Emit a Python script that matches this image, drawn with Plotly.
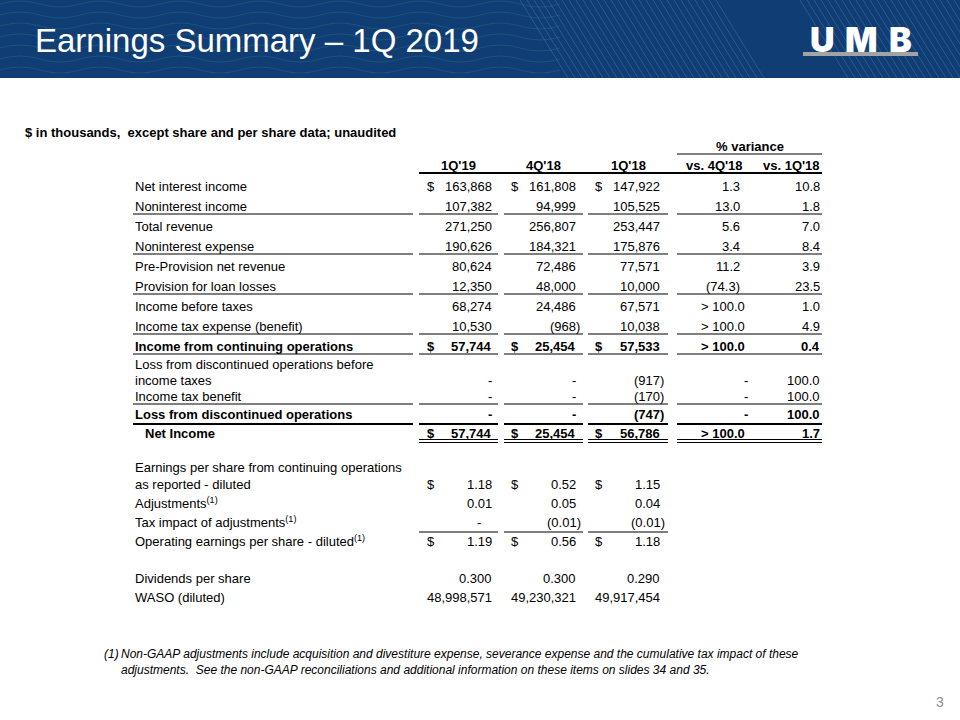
import plotly.graph_objects as go

# ---- data (thousands, except per share) ----
col_headers = ["1Q'19", "4Q'18", "1Q'18"]
var_headers = ["vs. 4Q'18", "vs. 1Q'18"]

income_labels = [
    "Net interest income",
    "Noninterest income",
    "Total revenue",
    "Noninterest expense",
    "Pre-Provision net revenue",
    "Provision for loan losses",
    "Income before taxes",
    "Income tax expense (benefit)",
    "Income from continuing operations",
    "Loss from discontinued operations before<br>income taxes",
    "Income tax benefit",
    "Loss from discontinued operations",
    "Net Income",
]
q1_19 = [163868, 107382, 271250, 190626, 80624, 12350, 68274, 10530, 57744, None, None, None, 57744]
q4_18 = [161808, 94999, 256807, 184321, 72486, 48000, 24486, -968, 25454, None, None, None, 25454]
q1_18 = [147922, 105525, 253447, 175876, 77571, 10000, 67571, 10038, 57533, -917, -170, -747, 56786]
var_4q18 = [1.3, 13.0, 5.6, 3.4, 11.2, -74.3, "> 100.0", "> 100.0", "> 100.0", None, None, None, "> 100.0"]
var_1q18 = [10.8, 1.8, 7.0, 8.4, 3.9, 23.5, 1.0, 4.9, 0.4, 100.0, 100.0, 100.0, 1.7]
income_bold = [False] * 8 + [True, False, False, True, True]
income_dollar = [True] + [False] * 7 + [True, False, False, False, True]

eps_labels = [
    "Earnings per share from continuing operations<br>as reported - diluted",
    "Adjustments<sup>(1)</sup>",
    "Tax impact of adjustments<sup>(1)</sup>",
    "Operating earnings per share - diluted<sup>(1)</sup>",
    "Dividends per share",
    "WASO (diluted)",
]
eps_q1_19 = [1.18, 0.01, None, 1.19, 0.300, 48998571]
eps_q4_18 = [0.52, 0.05, -0.01, 0.56, 0.300, 49230321]
eps_q1_18 = [1.15, 0.04, -0.01, 1.18, 0.290, 49917454]
eps_decimals = [2, 2, 2, 2, 3, 0]
eps_dollar = [True, False, False, True, False, False]

footnote = ("Non-GAAP adjustments include acquisition and divestiture expense, severance expense "
            "and the cumulative tax impact of these<br>adjustments.\u00a0 See the non-GAAP reconciliations "
            "and additional information on these items on slides 34 and 35.")

# ---- layout ----
HEADER_BLUE = "#0f3d74"
FONT = "Liberation Sans, Arial, sans-serif"
income_y = [186, 206, 226, 246, 266, 286, 306, 326, 346, 372, 396, 414, 433]
eps_y = [476, 503, 522, 541, 578, 597]
col_right = [492, 576, 660]
dollar_x = [427, 511, 595]
col_span = [(419, 498), (504, 583), (588, 668)]
var_right = [740, 820]
label_span = (133, 413)
var_span = (677, 822)


def fmt(v, dec=0):
    if v is None:
        return "-"
    if isinstance(v, str):
        return v
    s = f"{abs(v):,.{dec}f}"
    return f"({s})" if v < 0 else s


fig = go.Figure()
ann = []
shapes = []


def text(x, y, s, anchor="left", size=13, bold=False, color="black", family=FONT, weight=None):
    if bold:
        s = f"<b>{s}</b>"
    f = dict(family=family, size=size, color=color)
    if weight:
        f["weight"] = weight
    ann.append(dict(x=x, y=y, xref="x", yref="y", text=s, showarrow=False,
                    xanchor=anchor, yanchor="middle", align="left",
                    borderpad=0, borderwidth=0, font=f))


def hline(x0, x1, y, w=1):
    shapes.append(dict(type="line", xref="x", yref="y", x0=x0, x1=x1, y0=y, y1=y,
                       line=dict(color="black", width=w)))


# header band
shapes.append(dict(type="rect", xref="x", yref="y", x0=0, x1=960, y0=0, y1=78,
                   fillcolor=HEADER_BLUE, line_width=0, layer="below"))
# wave decoration on the left
for y0 in range(4, 78, 11):
    p = f"M 0,{y0}"
    x = 0
    while x < 560:
        p += f" Q {x + 20},{y0 - 6} {x + 40},{y0} Q {x + 60},{y0 + 6} {x + 80},{y0}"
        x += 80
    shapes.append(dict(type="path", xref="x", yref="y", path=p,
                       line=dict(color="rgba(70,170,150,0.22)", width=1)))
# diagonal stripes on the right
for x0 in list(range(520, 720, 7)) + list(range(800, 990, 7)):
    shapes.append(dict(type="line", xref="x", yref="y", x0=x0, y0=0, x1=x0 + 48, y1=78,
                       line=dict(color="rgba(110,160,215,0.30)", width=1)))
shapes.append(dict(type="rect", xref="x", yref="y", x0=803, x1=918, y0=52, y1=56,
                   fillcolor="#a3a3a3", line_width=0))

text(35, 40, "Earnings Summary \u2013 1Q 2019", size=33, color="white")
for letter, lx in zip("UMB", [822, 861, 900]):
    text(lx, 39, letter, anchor="center", size=34, color="white",
         family="Inter, DejaVu Sans, sans-serif", weight=900)

text(25, 132, "$ in thousands,\u00a0 except share and per share data; unaudited", bold=True)

# column headers
text(sum(var_span) / 2, 146, "% variance", anchor="center", bold=True)
hline(var_span[0], var_span[1], 154)
for (a, b), h in zip(col_span, col_headers):
    text((a + b) / 2, 165, h, anchor="center", bold=True)
text(743, 165, var_headers[0], anchor="right", bold=True)
text(var_right[1], 165, var_headers[1], anchor="right", bold=True)
hline(419, 822, 173, 2)

# income statement rows
cols = [q1_19, q4_18, q1_18]
for i, lab in enumerate(income_labels):
    y = income_y[i]
    b = income_bold[i]
    lx = 145 if lab == "Net Income" else 135
    if "<br>" in lab:
        l1, l2 = lab.split("<br>")
        text(lx, y - 8, l1, bold=b)
        text(lx, y + 8, l2, bold=b)
        vy = y + 8
    else:
        text(lx, y, lab, bold=b)
        vy = y
    for c, vals in enumerate(cols):
        v = vals[i]
        xr = col_right[c] + (4 if (v is not None and v < 0) else 0)
        text(xr, vy, fmt(v), anchor="right", bold=b)
        if income_dollar[i]:
            text(dollar_x[c], vy, "$", bold=b)
    for c, vals in enumerate([var_4q18, var_1q18]):
        v = vals[i]
        xr = var_right[c]
        if v is None:
            xr += 8
        elif isinstance(v, str):
            xr += 5
        text(xr, vy, fmt(v, 1), anchor="right", bold=b)

# rules under rows
for y in [214, 254, 294, 334, 354, 404]:
    hline(*label_span, y)
    for a, b in col_span:
        hline(a, b, y)
    hline(*var_span, y)
hline(label_span[0], label_span[1], 424, 2)
for a, b in col_span + [var_span]:
    hline(a, b, 424, 2)
    hline(a, b, 439.5)
    hline(a, b, 442.5)

# per share rows
eps_cols = [eps_q1_19, eps_q4_18, eps_q1_18]
for i, lab in enumerate(eps_labels):
    y = eps_y[i]
    if "<br>" in lab:
        l1, l2 = lab.split("<br>")
        text(135, y - 9, l1)
        text(135, y + 8, l2)
        vy = y + 8
    else:
        text(135, y, lab)
        vy = y
    for c, vals in enumerate(eps_cols):
        v = vals[i]
        xr = col_right[c]
        if v is None:
            xr -= 11
        elif v < 0:
            xr += 5
        text(xr, vy, fmt(v, eps_decimals[i]), anchor="right")
        if eps_dollar[i]:
            text(dollar_x[c], vy, "$")
for a, b in col_span:
    hline(a, b, 532)

# footnote
text(104, 654, "<i>(1)</i>", size=12)
text(121, 662, "<i>" + footnote + "</i>", size=12)
text(940, 702, "3", anchor="center", size=14, color="#8c8c8c")

fig.update_layout(
    width=960, height=720,
    margin=dict(l=0, r=0, t=0, b=0),
    paper_bgcolor="white", plot_bgcolor="white",
    xaxis=dict(range=[0, 960], visible=False, fixedrange=True),
    yaxis=dict(range=[720, 0], visible=False, fixedrange=True),
    annotations=ann, shapes=shapes, showlegend=False,
)
fig.write_html("out.html", config={"displayModeBar": False},
               post_script="document.body.style.margin='0';document.body.style.overflow='hidden';")
